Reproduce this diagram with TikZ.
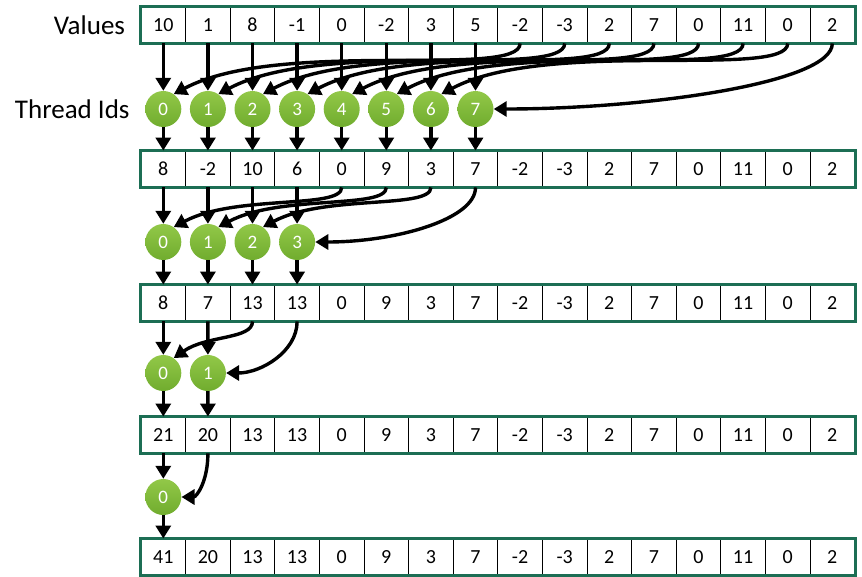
\documentclass[tikz,border=0pt]{standalone}
\usepackage{fontspec}
\setmainfont{Carlito}
\usetikzlibrary{arrows.meta,positioning}
\definecolor{framegreen}{RGB}{28,110,84}
\definecolor{thrtop}{RGB}{146,200,72}
\definecolor{thrbot}{RGB}{112,172,46}
\tikzstyle{cell}=[draw=black, line width=0.9pt, minimum width=44.6pt, minimum height=36pt, inner sep=0pt, font=\fontsize{20}{20}\selectfont]
\tikzstyle{frame}=[draw=framegreen, line width=3pt]
\tikzstyle{thr}=[circle, top color=thrtop, bottom color=thrbot, minimum size=36pt, inner sep=0pt, text=white, font=\fontsize{19}{19}\selectfont]
\tikzstyle{arr}=[-{Triangle[length=13pt,width=15pt]}, line width=3.4pt]
\tikzstyle{lbl}=[font=\fontsize{27}{27}\selectfont]

\begin{document}
\begin{tikzpicture}[x=1pt, y=1pt]
\useasboundingbox (0,0) rectangle (862,-576);
%
% value rows
  \foreach \v [count=\i from 0] in {10,1,8,-1,0,-2,3,5,-2,-3,2,7,0,11,0,2}
    \node[cell] (a\i) at (163.3+44.6*\i,-25) {\v};
  \foreach \v [count=\i from 0] in {8,-2,10,6,0,9,3,7,-2,-3,2,7,0,11,0,2}
    \node[cell] (b\i) at (163.3+44.6*\i,-169) {\v};
  \foreach \v [count=\i from 0] in {8,7,13,13,0,9,3,7,-2,-3,2,7,0,11,0,2}
    \node[cell] (c\i) at (163.3+44.6*\i,-303) {\v};
  \foreach \v [count=\i from 0] in {21,20,13,13,0,9,3,7,-2,-3,2,7,0,11,0,2}
    \node[cell] (d\i) at (163.3+44.6*\i,-435) {\v};
  \foreach \v [count=\i from 0] in {41,20,13,13,0,9,3,7,-2,-3,2,7,0,11,0,2}
    \node[cell] (e\i) at (163.3+44.6*\i,-557) {\v};
%
  \foreach \r in {a,b,c,d,e}
    \draw[frame] (\r0.north west) rectangle (\r15.south east);
%
  \node[lbl] (vals) [left=12pt of a0] {Values};
%
% step 1: 8 threads
  \foreach \i in {0,...,7}
    \node[thr] (s\i) at (163.3+44.6*\i,-109) {\i};
  \node[lbl] (tids) [left=12pt of s0] {Thread Ids};
  \foreach \i in {0,...,7}
    \draw[arr] (a\i.south) -- (s\i.north);
  \foreach \i [evaluate=\i as \j using int(\i+8)] in {0,...,6}
    \draw[arr] (a\j.south) to[out=-90, in=28, out distance=36pt, in distance=120pt] (s\i.55);
  \draw[arr] (a15.south) to[out=-90, in=0, out distance=40pt, in distance=150pt] (s7.east);
  \foreach \i in {0,...,7}
    \draw[arr] (s\i.south) -- (b\i.north);
%
% step 2: 4 threads
  \foreach \i in {0,...,3}
    \node[thr] (u\i) at (163.3+44.6*\i,-242) {\i};
  \foreach \i in {0,...,3}
    \draw[arr] (b\i.south) -- (u\i.north);
  \foreach \i [evaluate=\i as \j using int(\i+4)] in {0,...,2}
    \draw[arr] (b\j.south) to[out=-90, in=28, out distance=22pt, in distance=70pt] (u\i.55);
  \draw[arr] (b7.south) to[out=-90, in=0, out distance=32pt, in distance=80pt] (u3.east);
  \foreach \i in {0,...,3}
    \draw[arr] (u\i.south) -- (c\i.north);
%
% step 3: 2 threads
  \node[thr] (v0) at (163.3,-373) {0};
  \node[thr] (v1) at (207.9,-373) {1};
  \draw[arr] (c0.south) -- (v0.north);
  \draw[arr] (c1.south) -- (v1.north);
  \draw[arr] (c2.south) to[out=-90, in=35, out distance=18pt, in distance=40pt] (v0.55);
  \draw[arr] (c3.south) to[out=-90, in=0, out distance=30pt, in distance=35pt] (v1.east);
  \draw[arr] (v0.south) -- (d0.north);
  \draw[arr] (v1.south) -- (d1.north);
%
% step 4: 1 thread
  \node[thr] (w0) at (163.3,-497) {0};
  \draw[arr] (d0.south) -- (w0.north);
  \draw[arr] (d1.south) to[out=-90, in=0, out distance=28pt, in distance=15pt] (w0.east);
  \draw[arr] (w0.south) -- (e0.north);
\end{tikzpicture}
\end{document}
